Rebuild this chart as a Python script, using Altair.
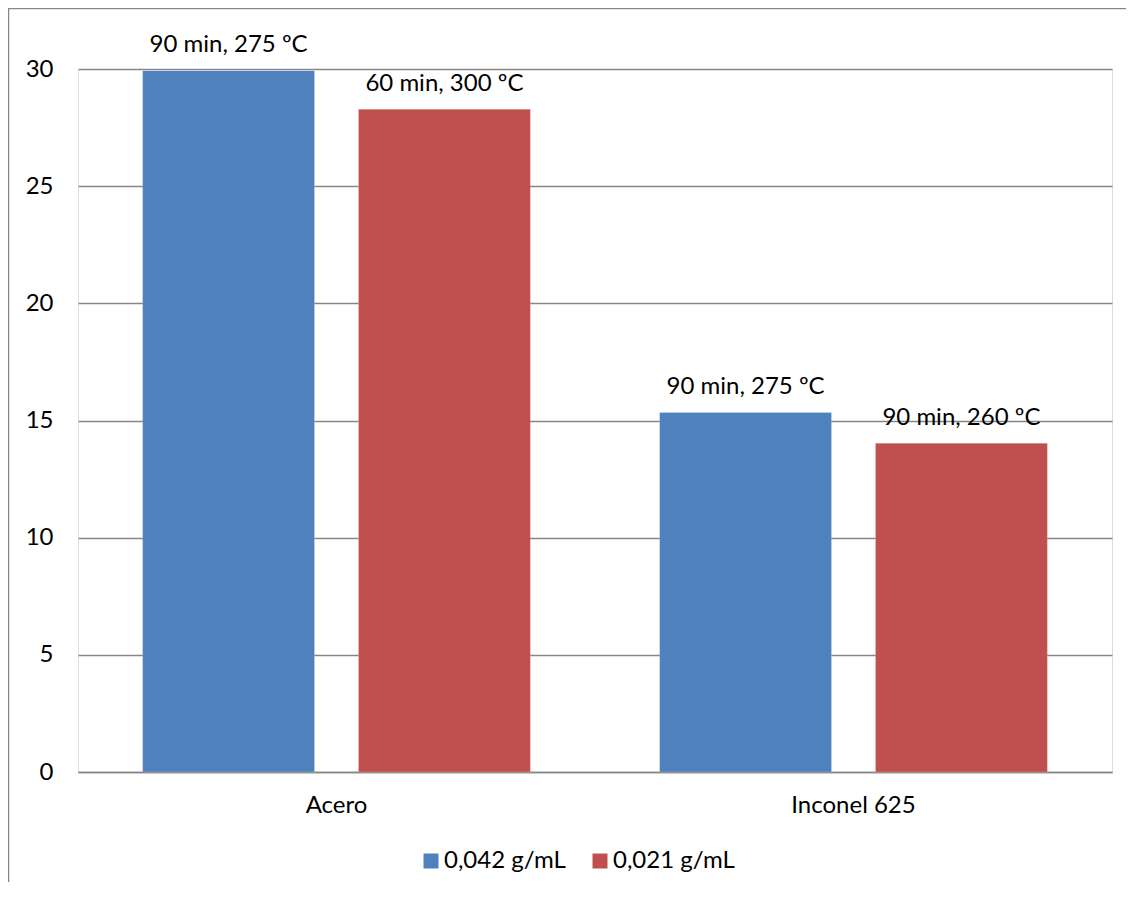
import altair as alt
import pandas as pd

# ---- data ----
materials = ["Acero", "Acero", "Inconel 625", "Inconel 625"]
series = ["0,042 g/mL", "0,021 g/mL", "0,042 g/mL", "0,021 g/mL"]
values = [29.93, 28.28, 15.34, 14.03]
labels = ["90 min, 275 ºC", "60 min, 300 ºC", "90 min, 275 ºC", "90 min, 260 ºC"]
category_order = ["Acero", "Inconel 625"]
series_order = ["0,042 g/mL", "0,021 g/mL"]
colors = ["#4F81BD", "#C0504D"]
y_ticks = [0, 5, 10, 15, 20, 25, 30]

df = pd.DataFrame({"material": materials, "serie": series, "valor": values, "etiqueta": labels})

FONT = "Lato"
FS = 24
W, H = 1034, 703
PAD = {"left": 70, "top": 61, "right": 14, "bottom": 110}

x = alt.X("material:N", sort=category_order, title=None,
          scale=alt.Scale(paddingInner=0.25, paddingOuter=0.125),
          axis=alt.Axis(labelAngle=0, ticks=False, domain=True, domainColor="#868686",
                        domainWidth=1.5, labelFontSize=FS, labelColor="#000000",
                        labelPadding=21, labelFont=FONT, grid=False))
xo = alt.XOffset("serie:N", sort=series_order,
                 scale=alt.Scale(paddingInner=0.2037, paddingOuter=0))
y = alt.Y("valor:Q", title=None,
          scale=alt.Scale(domain=[0, 30], nice=False),
          axis=alt.Axis(values=y_ticks, ticks=False, domain=False, grid=True,
                        gridColor="#868686", gridWidth=1.3, labelFontSize=FS,
                        labelColor="#000000", labelPadding=25, labelFont=FONT))
color = alt.Color("serie:N", sort=series_order,
                  scale=alt.Scale(domain=series_order, range=colors),
                  legend=alt.Legend(title=None, orient="none", legendX=341, legendY=780,
                                    direction="horizontal", symbolType="square",
                                    symbolSize=225, symbolStrokeWidth=0,
                                    labelFontSize=FS, labelFont=FONT, labelColor="#000000",
                                    labelOffset=1, columnPadding=22))

base = alt.Chart(df)
bars = base.mark_bar(stroke="#ffffff", strokeWidth=0.5, strokeOpacity=0.4).encode(
    x=x, xOffset=xo, y=y, color=color)
text = base.mark_text(baseline="alphabetic", dy=-18.5, fontSize=FS, font=FONT,
                      color="#000000").encode(
    x=x, xOffset=xo, y=y, text="etiqueta:N")

frame_data = alt.Data(values=[{"k": 1}])
left_border = alt.Chart(frame_data).mark_rule(color="#868686", strokeWidth=1.5).encode(
    x=alt.value(-69.5), y=alt.value(-61), y2=alt.value(H + PAD["bottom"]))
top_border = alt.Chart(frame_data).mark_rule(color="#868686", strokeWidth=1.5).encode(
    x=alt.value(-70), x2=alt.value(W + PAD["right"]), y=alt.value(-60.5))

chart = alt.layer(bars, text, left_border, top_border).properties(
    width=W, height=H,
    autosize=alt.AutoSizeParams(type="none"),
    padding=PAD,
).configure_view(stroke=None).configure(background="#ffffff")

chart.save("out.html", embed_options={"renderer": "svg", "actions": False})
